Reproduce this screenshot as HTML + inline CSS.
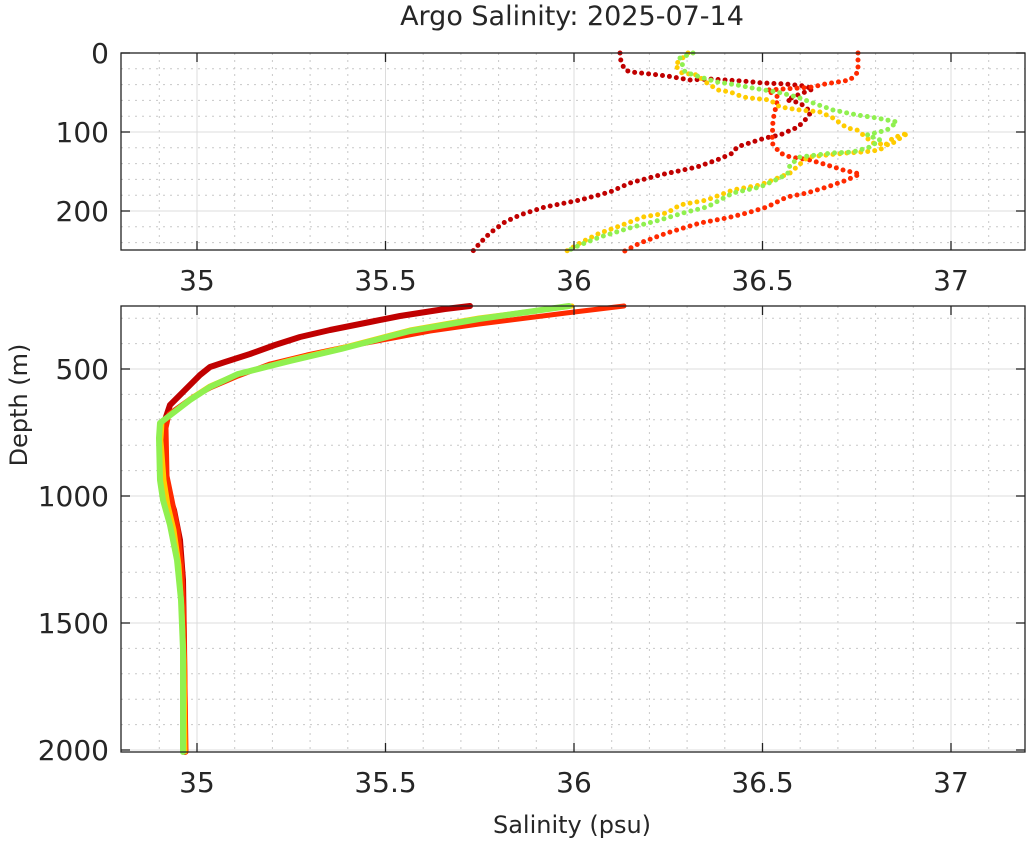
<!DOCTYPE html>
<html><head><meta charset="utf-8"><style>
body{margin:0;background:#fff}
svg{display:block;font-family:"DejaVu Sans","Liberation Sans",sans-serif}
</style></head><body>
<svg id="s" width="1029" height="841" xmlns="http://www.w3.org/2000/svg">
<rect width="1029" height="841" fill="#fff"/>
<g id="grid"></g>
<g id="data" fill="none" stroke-linecap="round" stroke-linejoin="round">
<polyline stroke="#c00000" stroke-width="5" stroke-dasharray="0 7" points="620,53 621,62 625,70 631,72 640,73 650,74 667,76 690,80 710,79 742,81 763,83 786,84 804,86 813,89 800,94 787,100 800,103 811,112 807,118 798,127 780,135 765,138 737,147 733,153 717,160 697,167 660,175 630,183 610,192 580,200 545,207 520,215 505,222 490,233 480,243 473,251"/>
<polyline stroke="#ff2a00" stroke-width="5" stroke-dasharray="0 7" points="858,53 858,72 850,80 838,82 825,84 813,87 800,88 767,90 778,97 773,120 772,143 780,153 790,157 810,160 827,165 843,170 860,174 847,180 827,187 807,193 787,197 767,207 747,213 727,218 700,223 667,233 640,243 623,252"/>
<polyline stroke="#ffcc00" stroke-width="5" stroke-dasharray="0 7" points="688,53 675,65 682,73 697,75 707,83 718,90 730,92 743,97 750,98 770,100 780,107 800,110 820,112 833,118 847,128 857,130 873,143 890,145 908,133 893,138 880,150 863,152 847,153 827,155 808,157 790,173 773,180 760,185 733,190 707,200 680,205 667,213 643,217 617,227 600,233 580,243 565,252"/>
<polyline stroke="#90f050" stroke-width="5" stroke-dasharray="0 7" points="693,53 680,58 685,72 700,77 717,82 737,85 752,88 777,92 797,97 813,103 833,110 857,115 877,118 897,122 887,130 867,135 880,140 870,147 853,152 833,153 800,157 790,165 788,173 780,178 760,187 733,193 707,207 683,213 660,220 633,227 600,237 580,245 565,252"/>
<polyline stroke="#c00000" stroke-width="6" points="470,306 445,309 400,316 370,322 330,330 300,337 275,345 250,354 225,362 210,367 200,375 185,390 170,405 165,420 163,430 163,470 167,490 174,510 180,540 183,580 184,640 185,752"/>
<polyline stroke="#ff2a00" stroke-width="5" points="624,306 566,313 479,324 430,331 393,338 350,346 307,355 270,364 238,376 210,388 193,397 169,414 166,428 167,476 172,500 178,530 182,570 184,620 186,752"/>
<polyline stroke="#ffcc00" stroke-width="5" points="572,306 479,318 410,330 341,348 290,360 238,374 210,386 190,399 162,422 161,440 164,480 168,505 174,530 179,565 182,610 184,660 185,752"/>
<polyline stroke="#90f050" stroke-width="6" points="569,306 479,319 410,331 341,349 290,361 238,374 210,387 190,400 160,423 159,438 160,480 163,500 170,525 177,560 181,600 183,650 183,752"/>
</g>
<g id="frame" fill="none" stroke="#222" stroke-width="1.3">
<rect x="121" y="53" width="904" height="197"/>
<rect x="121" y="306" width="904" height="446"/>
</g>
<g id="ticks" stroke="#222" stroke-width="1.3"></g>
<g font-size="28" fill="#262626" text-anchor="middle" id="lbl">
<text x="572" y="25" font-size="27">Argo Salinity: 2025-07-14</text>
<text x="572" y="833" font-size="24">Salinity (psu)</text>
<text transform="translate(27,405) rotate(-90)" font-size="24">Depth (m)</text>
</g>
</svg>
<script>
const NS="http://www.w3.org/2000/svg";
function el(p,t,a,txt){const e=document.createElementNS(NS,t);for(const k in a)e.setAttribute(k,a[k]);if(txt!==undefined)e.textContent=String(txt);document.getElementById(p).appendChild(e);}
const X=v=>197+(v-35)*377;
const T=d=>53+d*0.79;
const B=d=>369+(d-500)*0.254;
for(let i=0;i<=24;i++){const v=34.8+i*0.1;const x=X(v);if(x<122||x>1024)continue;
 const major=Math.abs(v*2-Math.round(v*2))<1e-6;
 [[53,250],[306,752]].forEach(([a,b])=>el('grid','line',{x1:x,x2:x,y1:a,y2:b,stroke:major?'#dcdcdc':'#c8c8c8','stroke-width':1,'stroke-dasharray':major?'':'2 5'}));
 if(major){[[53,250],[306,752]].forEach(([a,b])=>{el('ticks','line',{x1:x,x2:x,y1:b,y2:b-9});el('ticks','line',{x1:x,x2:x,y1:a,y2:a+9});});
  const s=(+v.toFixed(1)).toString();
  el('lbl','text',{x:x,y:290},s);el('lbl','text',{x:x,y:792},s);}
}
for(let d=20;d<250;d+=20){const y=T(d);const major=d%100==0;
 el('grid','line',{x1:121,x2:1025,y1:y,y2:y,stroke:major?'#dcdcdc':'#c8c8c8','stroke-width':1,'stroke-dasharray':major?'':'2 5'});}
[0,100,200].forEach(d=>{const y=T(d);el('ticks','line',{x1:121,x2:130,y1:y,y2:y});el('ticks','line',{x1:1025,x2:1016,y1:y,y2:y});
 el('lbl','text',{x:109,y:y+10,'text-anchor':'end'},d);});
for(let d=300;d<=2000;d+=100){const y=B(d);const major=d%500==0;
 el('grid','line',{x1:121,x2:1025,y1:y,y2:y,stroke:major?'#dcdcdc':'#c8c8c8','stroke-width':1,'stroke-dasharray':major?'':'2 5'});
 if(major){el('ticks','line',{x1:121,x2:130,y1:y,y2:y});el('ticks','line',{x1:1025,x2:1016,y1:y,y2:y});
  el('lbl','text',{x:109,y:y+10,'text-anchor':'end'},d);}}
</script>
</body></html>
